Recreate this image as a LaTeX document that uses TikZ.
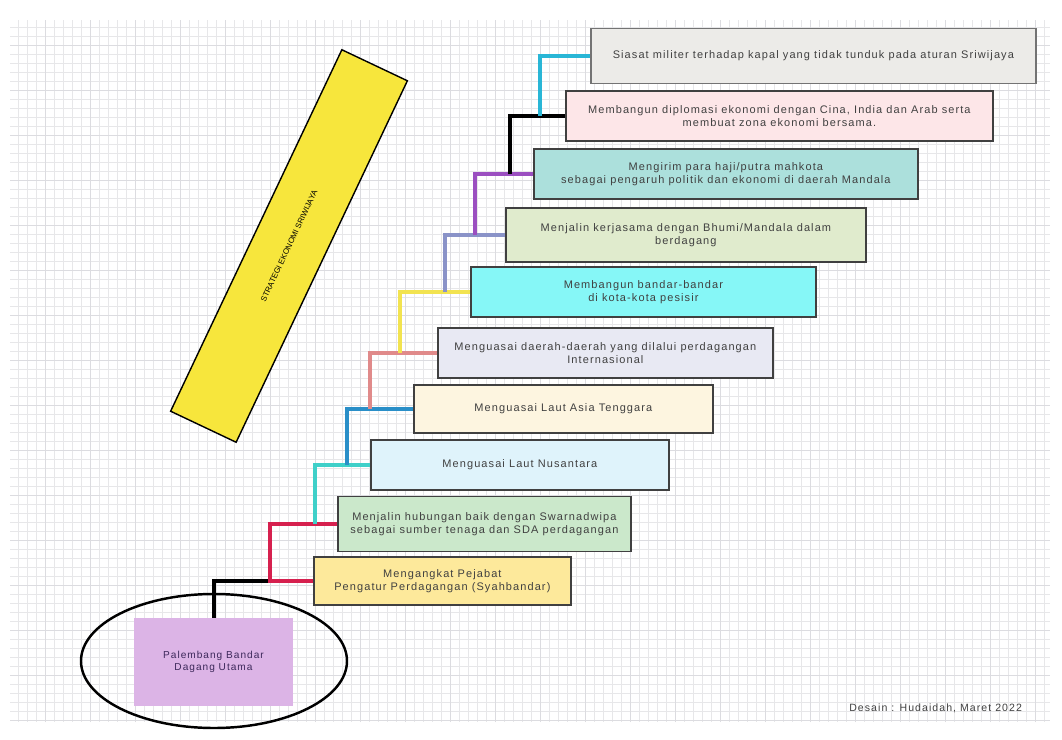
\documentclass[tikz,border=0pt]{standalone}
\usepackage{fontspec}
\setmainfont{Liberation Sans}
\newfontfamily\boxfont[LetterSpace=10]{Liberation Sans}
\usetikzlibrary{positioning,calc,shapes.geometric}
\definecolor{gridgray}{RGB}{220,220,224}
\definecolor{baryellow}{RGB}{247,230,60}
\definecolor{linkred}{RGB}{214,32,78}
\definecolor{linkturq}{RGB}{63,208,201}
\definecolor{linkblue}{RGB}{42,143,200}
\definecolor{linksalmon}{RGB}{224,138,138}
\definecolor{linkyellow}{RGB}{242,227,80}
\definecolor{linkslate}{RGB}{138,147,200}
\definecolor{linkpurple}{RGB}{155,79,192}
\definecolor{linkcyan}{RGB}{41,182,214}
\definecolor{portpurple}{RGB}{220,180,230}

\tikzset{
  stepbox/.style={draw=black!75, line width=2pt, anchor=west, align=center,
    minimum height=20mm, text=black!75, font=\boxfont\fontsize{12.5}{14.5}\selectfont},
  link/.style={line width=3.6pt},
}

\begin{document}
\begin{tikzpicture}[x=0.4mm, y=-0.4mm]
        \useasboundingbox (0,0) rectangle (1062,740);

        % Draw grid
        \draw[step=3.6mm, gridgray!70, line width=0.4pt] (10,20) grid (1050,722);
        \draw[step=18mm, gridgray, line width=0.6pt] (10,20) grid (1050,722);

        % Slanted title bar
        \node[draw, fill=baryellow, line width=1.6pt, minimum width=160mm, minimum height=29mm,
              rotate=64.65, font=\fontsize{9}{10}\selectfont] (bar) at (289,246) {STRATEGI EKONOMI SRIWIJAYA};

        % Port
        \node[draw, ellipse, line width=2.8pt, minimum width=106.4mm, minimum height=53.6mm] (port) at (214,661) {};

        % Steps
        \node[stepbox, fill={rgb,255:red,236;green,235;blue,232}, draw=black!55, minimum width=178mm, minimum height=22mm] (b1) at (590,56)
            {Siasat militer terhadap kapal yang tidak tunduk pada aturan Sriwijaya};
        \node[stepbox, fill={rgb,255:red,253;green,230;blue,232}, minimum width=170.8mm] (b2) at (565,116)
            {Membangun diplomasi ekonomi dengan Cina, India dan Arab serta\\ membuat zona ekonomi bersama.};
        \node[stepbox, fill={rgb,255:red,172;green,224;blue,220}, minimum width=153.6mm] (b3) at (533,174)
            {Mengirim para haji/putra mahkota\\ sebagai pengaruh politik dan ekonomi di daerah Mandala};
        \node[stepbox, fill={rgb,255:red,224;green,235;blue,205}, minimum width=144mm, minimum height=21.6mm] (b4) at (505,235)
            {Menjalin kerjasama dengan Bhumi/Mandala dalam\\ berdagang};
        \node[stepbox, fill={rgb,255:red,134;green,247;blue,247}, minimum width=138mm] (b5) at (470,292)
            {Membangun bandar-bandar\\ di kota-kota pesisir};
        \node[stepbox, fill={rgb,255:red,232;green,233;blue,243}, minimum width=134mm] (b6) at (437,353)
            {Menguasai daerah-daerah yang dilalui perdagangan\\ Internasional};
        \node[stepbox, fill={rgb,255:red,253;green,245;blue,224}, minimum width=119.6mm, minimum height=19.2mm] (b7) at (413,409)
            {Menguasai Laut Asia Tenggara};
        \node[stepbox, fill={rgb,255:red,223;green,243;blue,251}, minimum width=119.2mm] (b8) at (370,465)
            {Menguasai Laut Nusantara};
        \node[stepbox, fill={rgb,255:red,203;green,232;blue,203}, minimum width=117.2mm, minimum height=22mm] (b9) at (337,524)
            {Menjalin hubungan baik dengan Swarnadwipa\\ sebagai sumber tenaga dan SDA perdagangan};
        \node[stepbox, fill={rgb,255:red,253;green,233;blue,155}, minimum width=102.8mm, minimum height=19.2mm] (b10) at (313,581)
            {Mengangkat Pejabat\\ Pengatur Perdagangan (Syahbandar)};

        % Links between steps
        \coordinate (j10) at ($(b10.west)+(-43,0)$);
        \draw[link] (port.center |- 0,618) |- (j10);
        \draw[link, linkred] (b10.west) -- (j10) |- (b9.west);
        \foreach \from/\to/\dx/\col in {b9/b8/22/linkturq, b8/b7/23/linkblue, b7/b6/43/linksalmon,
                                       b6/b5/37/linkyellow, b5/b4/25/linkslate, b4/b3/30/linkpurple,
                                       b3/b2/23/black, b2/b1/25/linkcyan}
            \draw[link, \col] ([xshift=-\dx*0.4mm]\from.west) |- (\to.west);

        % Palembang
        \node[fill=portpurple, minimum width=63.6mm, minimum height=35.2mm, align=center,
              text={rgb,255:red,60;green,40;blue,90}, font=\boxfont\fontsize{11.5}{14}\selectfont] (rect) at (213.5,662)
            {Palembang Bandar\\ Dagang Utama};

        \node[anchor=east, text=black!75, font=\boxfont\fontsize{12}{14}\selectfont] (credit) at (1025,708)
            {Desain : Hudaidah, Maret 2022};
\end{tikzpicture}
\end{document}
